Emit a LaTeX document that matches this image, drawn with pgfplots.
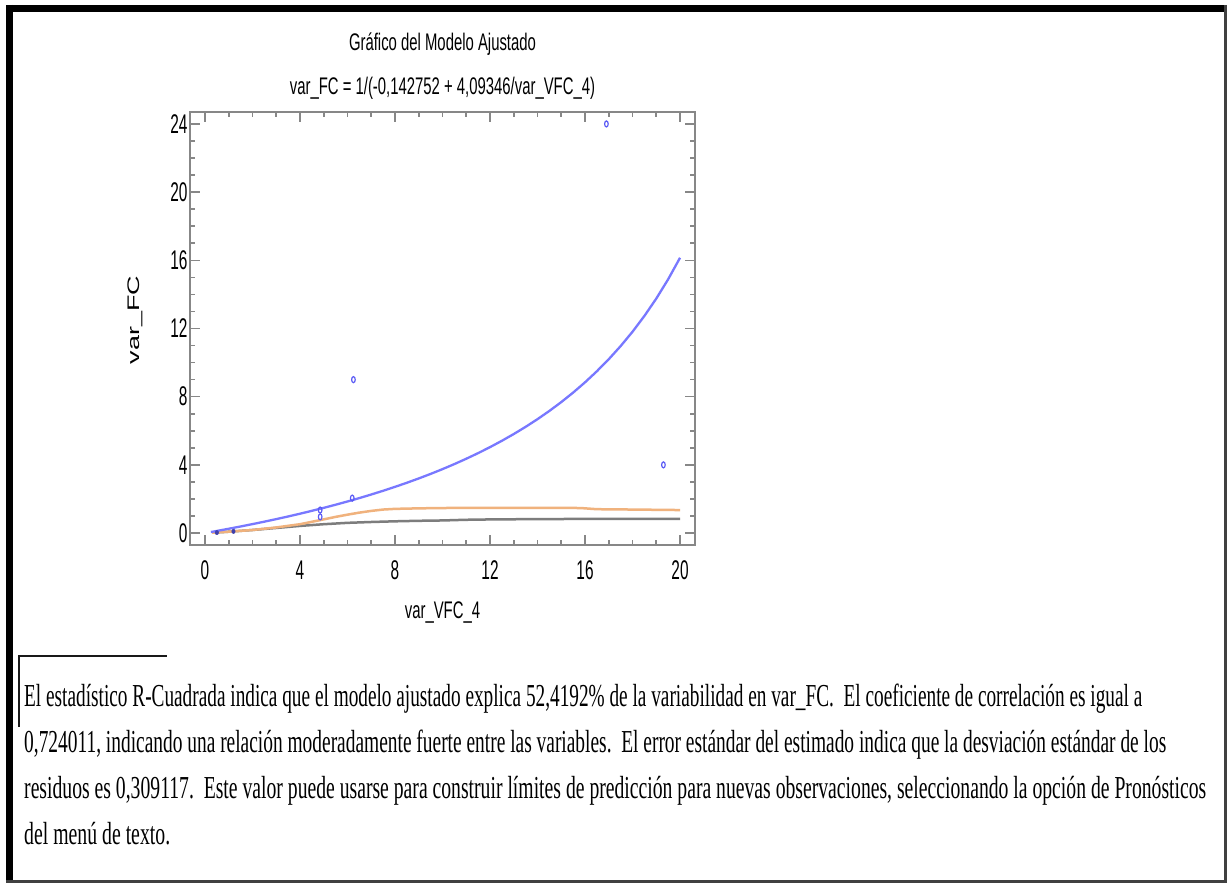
\documentclass[border=0pt]{standalone}
\usepackage{pgfplots}
\pgfplotsset{compat=1.18}
\usepackage{fontspec}
\setmainfont{Liberation Serif}
\newfontfamily\chartfont{Liberation Sans}[FakeStretch=0.62]
\newfontfamily\tickfont{Liberation Sans}[FakeStretch=0.57]
\newfontfamily\chartfontn{Liberation Sans}
\newfontfamily\parafont{Liberation Serif}
\definecolor{fitblue}{RGB}{120,120,255}
\definecolor{limorange}{RGB}{240,178,125}
\definecolor{limgray}{RGB}{125,125,125}
\definecolor{ptblue}{RGB}{90,90,245}
\definecolor{boxgray}{RGB}{135,135,135}
\newcommand\cf{\chartfont\fontsize{24}{28}\selectfont}
\newcommand\tf{\tickfont\fontsize{27}{30}\selectfont}
\newcommand\pline[2]{\resizebox{#1}{\height}{\parafont\fontsize{32}{38}\selectfont #2}}
\begin{document}
\begin{tikzpicture}[x=1pt,y=1pt]
\useasboundingbox (0pt,0pt) rectangle (1229pt,-883pt);
\fill[white] (0pt,0pt) rectangle (1229pt,-883pt);
% frame
\draw[black, line width=7pt] (9.5pt,-5pt) -- (9.5pt,-883pt);
\draw[black, line width=7pt] (6pt,-8.5pt) -- (1227pt,-8.5pt);
\draw[gray!50!black, line width=3pt] (1225.5pt,-5pt) -- (1225.5pt,-883pt);
\draw[gray!50!black, line width=3pt] (6pt,-881.5pt) -- (1227pt,-881.5pt);
% paragraph decoration
\draw[gray!20!black, line width=2pt] (18pt,-656pt) -- (167pt,-656pt);
\draw[gray!20!black, line width=1.5pt] (19pt,-656pt) -- (19pt,-727pt);
% titles
\node[anchor=base, font=\cf, inner sep=0pt] at (442.5pt,-51pt) {Gráfico del Modelo Ajustado};
\node[anchor=base, font=\cf, inner sep=0pt] at (442.5pt,-95pt) {var\_FC = 1/(-0,142752 + 4,09346/var\_VFC\_4)};
\begin{axis}[
  at={(190pt,-545pt)}, anchor=south west,
  scale only axis, width=505pt, height=433pt,
  xmin=-0.63, xmax=20.63, ymin=-0.7, ymax=24.7,
  xtick={0,4,...,20}, ytick={0,4,...,24},
  minor x tick num=3, minor y tick num=3,
  tick align=inside,
  major tick length=10pt, minor tick length=5pt,
  tick style={draw=boxgray, line width=1.6pt},
  axis line style={draw=boxgray, line width=2.8pt},
  tick label style={font=\tf},
  /pgf/number format/assume math mode=true,
  xticklabel style={yshift=-12pt},
  yticklabel style={xshift=1pt},
  xlabel={var\_VFC\_4},
  xlabel style={font=\cf, at={(axis description cs:0.5,-0.155)}, anchor=center},
  ylabel={\scalebox{1}[0.62]{\chartfontn\fontsize{27}{30}\selectfont var\_FC}},
  ylabel style={at={(axis description cs:-0.109,0.52)}, anchor=center},
  clip=false,
]
\addplot[limgray, line width=2.5pt] coordinates {(0.3,0.02) (1,0.08) (2,0.18) (3,0.3) (4,0.42) (5,0.52) (6,0.6) (7,0.65) (8,0.69) (9,0.72) (10,0.74) (11,0.78) (12,0.8) (14,0.82) (16,0.83) (18,0.84) (20,0.84)};
\addplot[limorange, line width=2.5pt] coordinates {(0.3,0.02) (1,0.08) (2,0.18) (3,0.33) (4,0.52) (4.85,0.76) (5.5,0.95) (6,1.08) (6.5,1.2) (7,1.3) (7.5,1.38) (8,1.42) (9,1.45) (10,1.47) (12,1.48) (14,1.48) (15.8,1.47) (16.5,1.4) (18,1.38) (20,1.35)};
\addplot[fitblue, line width=2.3pt] coordinates {
(0.25,0.0616) (0.5,0.1243) (1,0.2531) (1.5,0.3867) (2,0.5252) (2.5,0.6691) (3,0.8185) (3.5,0.9739) (4,1.1356) (4.5,1.3039) (5,1.4794) (5.5,1.6625) (6,1.8536) (6.5,2.0533) (7,2.2623) (7.5,2.4811) (8,2.7105) (8.5,2.9513) (9,3.2043) (9.5,3.4706) (10,3.7510) (10.5,4.0469) (11,4.3596) (11.5,4.6904) (12,5.0411) (12.5,5.4135) (13,5.8096) (13.5,6.2318) (14,6.6828) (14.5,7.1656) (15,7.6837) (15.5,8.2412) (16,8.8426) (16.5,9.4934) (17,10.1999) (17.5,10.9700) (18,11.8117) (18.5,12.7363) (19,13.7564) (19.5,14.8878) (20,16.1496)};
\addplot[only marks, mark=o, mark size=3pt, mark options={draw=ptblue, fill=white, line width=1.2pt, xscale=0.6}] coordinates {(16.9,24) (6.25,9) (19.3,4) (6.2,2.05) (4.85,1.35) (4.85,0.95)};
\addplot[only marks, mark=*, mark size=2.2pt, mark options={draw=ptblue!70!black, fill=ptblue!70!black, xscale=0.8}] coordinates {(0.5,0.03) (1.2,0.1)};
\end{axis}
% paragraph
\node[anchor=base west, inner sep=0pt] at (24pt,-706pt) {\pline{1118pt}{El estadístico R-Cuadrada indica que el modelo ajustado explica 52,4192\% de la variabilidad en var\_FC.\ \ El coeficiente de correlación es igual a}};
\node[anchor=base west, inner sep=0pt] at (24pt,-752pt) {\pline{1142pt}{0,724011, indicando una relación moderadamente fuerte entre las variables.\ \ El error estándar del estimado indica que la desviación estándar de los}};
\node[anchor=base west, inner sep=0pt] at (24pt,-798pt) {\pline{1182pt}{residuos es 0,309117.\ \ Este valor puede usarse para construir límites de predicción para nuevas observaciones, seleccionando la opción de Pronósticos}};
\node[anchor=base west, inner sep=0pt] at (24pt,-844pt) {\pline{146pt}{del menú de texto.}};
\end{tikzpicture}
\end{document}
